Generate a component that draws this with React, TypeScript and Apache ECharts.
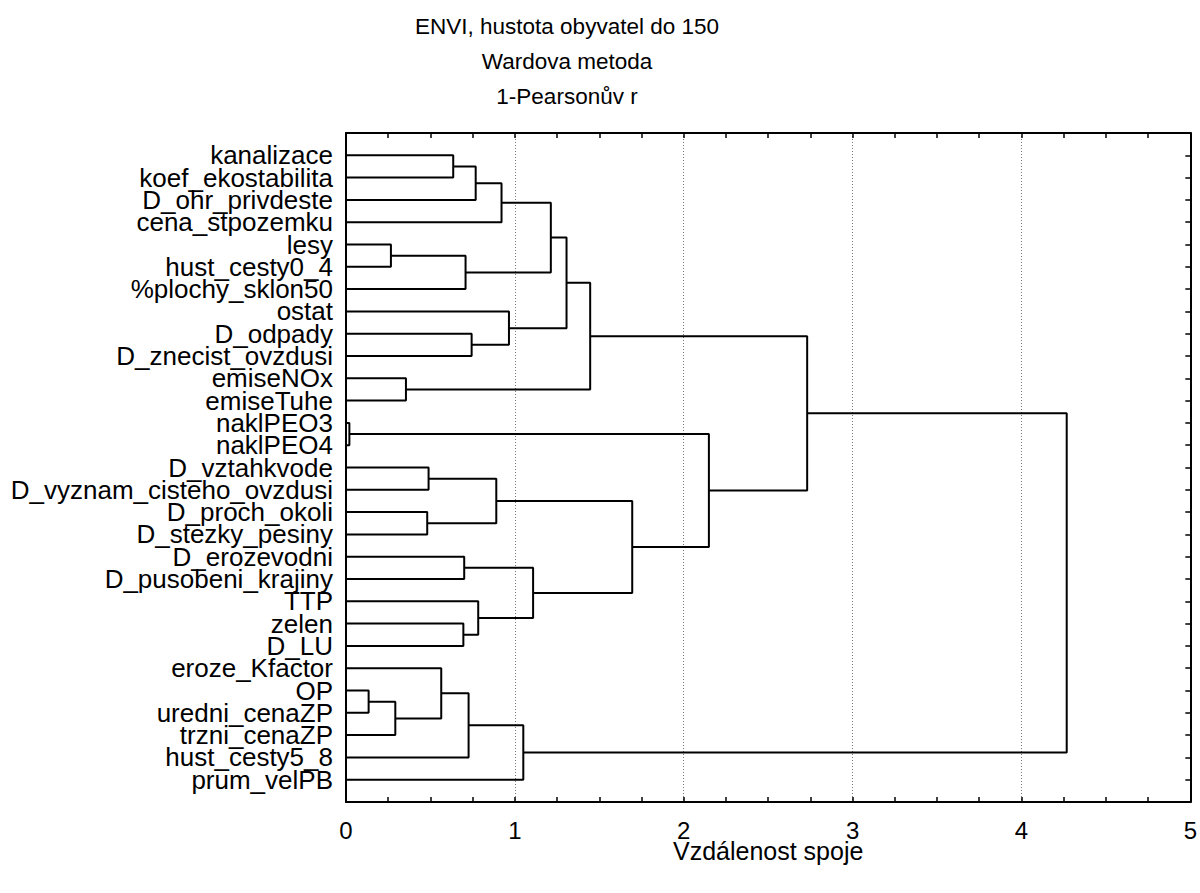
import React, { useEffect, useRef } from "react";
import * as echarts from "echarts";

const titleLines = ["ENVI, hustota obyvatel do 150", "Wardova metoda", "1-Pearsonův r"];
const axisName = "Vzdálenost spoje";

const leafNames = [
  "kanalizace",
  "koef_ekostabilita",
  "D_ohr_privdeste",
  "cena_stpozemku",
  "lesy",
  "hust_cesty0_4",
  "%plochy_sklon50",
  "ostat",
  "D_odpady",
  "D_znecist_ovzdusi",
  "emiseNOx",
  "emiseTuhe",
  "naklPEO3",
  "naklPEO4",
  "D_vztahkvode",
  "D_vyznam_cisteho_ovzdusi",
  "D_proch_okoli",
  "D_stezky_pesiny",
  "D_erozevodni",
  "D_pusobeni_krajiny",
  "TTP",
  "zelen",
  "D_LU",
  "eroze_Kfactor",
  "OP",
  "uredni_cenaZP",
  "trzni_cenaZP",
  "hust_cesty5_8",
  "prum_velPB",
];

// merges: [childA, childB, linkage distance]; ids 0..28 are leaves, 29+ are merges in order
const mergeLeft = [0, 29, 30, 4, 32, 31, 8, 7, 34, 10, 37, 12, 14, 16, 41, 18, 21, 20, 44, 43, 40, 39, 24, 51, 23, 53, 54, 50];
const mergeRight = [1, 2, 3, 5, 6, 33, 9, 35, 36, 11, 38, 13, 15, 17, 42, 19, 22, 45, 46, 47, 48, 49, 25, 26, 52, 27, 28, 55];
const mergeHeight = [
  0.635, 0.768, 0.921, 0.266, 0.708, 1.213, 0.744, 0.965, 1.306, 0.355, 1.446, 0.02, 0.489, 0.481, 0.89, 0.7,
  0.695, 0.783, 1.108, 1.695, 2.149, 2.731, 0.134, 0.292, 0.564, 0.726, 1.05, 4.268,
];

const xTicks = [0, 1, 2, 3, 4, 5];

const FONT = "'Liberation Sans', Arial, sans-serif";

export default function App() {
  const ref = useRef<HTMLDivElement>(null);

  useEffect(() => {
    if (!ref.current) return;
    const chart = echarts.init(ref.current, undefined, { renderer: "svg" });
    const n = leafNames.length;
    const pos: number[] = [];
    const hgt: number[] = [];
    for (let i = 0; i < n; i++) {
      pos.push(i);
      hgt.push(0);
    }
    const series: any[] = [];
    for (let k = 0; k < mergeLeft.length; k++) {
      const a = mergeLeft[k];
      const b = mergeRight[k];
      const h = mergeHeight[k];
      series.push({
        type: "line",
        silent: true,
        symbol: "none",
        lineStyle: { color: "#000", width: 2 },
        data: [
          [hgt[a], pos[a]],
          [h, pos[a]],
          [h, pos[b]],
          [hgt[b], pos[b]],
        ],
      });
      pos.push((pos[a] + pos[b]) / 2);
      hgt.push(h);
    }

    const tickStyle = { show: true, inside: true, length: 5, lineStyle: { color: "#000", width: 1.5 } };
    const lineStyle = { show: true, onZero: false, lineStyle: { color: "#000", width: 2 } };

    chart.setOption({
      animation: false,
      backgroundColor: "#fff",
      graphic: titleLines.map((t, i) => ({
        type: "text",
        x: 567,
        y: 26 + i * 35,
        style: {
          text: t,
          font: `22.5px ${FONT}`,
          fill: "#000",
          align: "center",
          verticalAlign: "middle",
        },
      })),
      grid: { left: 346, right: 9, top: 133, bottom: 91 },
      xAxis: [
        {
          type: "value",
          min: xTicks[0],
          max: xTicks[xTicks.length - 1],
          interval: 1,
          position: "bottom",
          name: axisName,
          nameLocation: "middle",
          nameGap: 39,
          nameMoveOverlap: false,
          nameTextStyle: { fontFamily: FONT, fontSize: 25, lineHeight: 20, color: "#000" },
          axisLine: lineStyle,
          axisTick: tickStyle,
          minorTick: { show: true, splitNumber: 4, length: 5, lineStyle: { color: "#000", width: 1.5 } },
          axisLabel: { fontFamily: FONT, fontSize: 24, lineHeight: 20, color: "#000", margin: 18 },
          splitLine: { show: true, lineStyle: { color: "#777", type: [1, 2], width: 1 } },
        },
        {
          type: "value",
          min: xTicks[0],
          max: xTicks[xTicks.length - 1],
          interval: 1,
          position: "top",
          axisLine: lineStyle,
          axisTick: tickStyle,
          minorTick: { show: true, splitNumber: 4, length: 5, lineStyle: { color: "#000", width: 1.5 } },
          axisLabel: { show: false },
          splitLine: { show: false },
        },
      ],
      yAxis: [
        {
          type: "value",
          min: -1,
          max: n,
          interval: 1,
          inverse: true,
          position: "left",
          axisLine: lineStyle,
          axisTick: { show: false },
          axisLabel: {
            fontFamily: FONT,
            fontSize: 26,
            lineHeight: 22,
            color: "#000",
            margin: 13,
            formatter: (v: number) => (v >= 0 && v < n ? leafNames[v] : ""),
          },
          splitLine: { show: false },
        },
        {
          type: "value",
          min: -1,
          max: n,
          interval: 1,
          inverse: true,
          position: "right",
          axisLine: lineStyle,
          axisTick: tickStyle,
          axisLabel: { show: false },
          splitLine: { show: false },
        },
      ],
      series,
    });
    return () => chart.dispose();
  }, []);

  return (
    <div
      ref={ref}
      style={{ position: "absolute", left: 0, top: 0, width: 1200, height: 893, background: "#fff" }}
    />
  );
}
